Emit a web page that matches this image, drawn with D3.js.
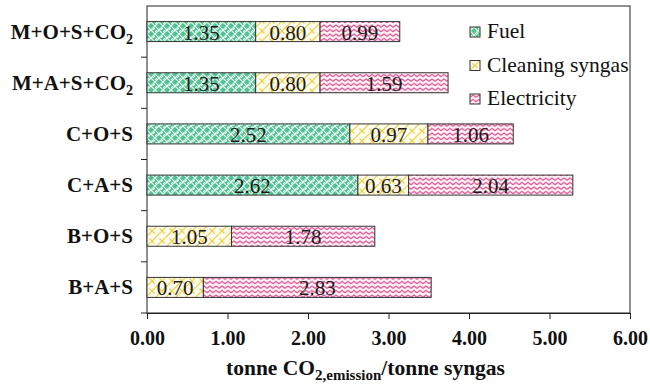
<!DOCTYPE html>
<html>
<head>
<meta charset="utf-8">
<script src="https://cdn.jsdelivr.net/npm/d3@7"></script>
<style>
  body { margin: 0; background: #fff; }
  svg text { font-family: "Liberation Serif", "Times New Roman", serif; }
</style>
</head>
<body>
<div id="chart"></div>
<script>
var svgWidth = 650;
var svgHeight = 384;

var margin = { top: 6, right: 20, bottom: 72, left: 147 };
var width = 630 - margin.left;
var height = 313 - margin.top;
var serif = "'Liberation Serif', 'Times New Roman', serif";

// data
var categories = ["M+O+S+CO2", "M+A+S+CO2", "C+O+S", "C+A+S", "B+O+S", "B+A+S"];
var seriesNames = ["Fuel", "Cleaning syngas", "Electricity"];
var fuel = [1.35, 1.35, 2.52, 2.62, 0, 0];
var cleaning = [0.80, 0.80, 0.97, 0.63, 1.05, 0.70];
var electricity = [0.99, 1.59, 1.06, 2.04, 1.78, 2.83];
var xTicks = [0, 1, 2, 3, 4, 5, 6];

var rows = categories.map(function(c, i) {
  return { cat: c, Fuel: fuel[i], "Cleaning syngas": cleaning[i], Electricity: electricity[i] };
});

var svg = d3.select("#chart").append("svg")
  .attr("width", svgWidth)
  .attr("height", svgHeight);

// patterns
var defs = svg.append("defs");

var pFuel = defs.append("pattern").attr("id", "p0")
  .attr("patternUnits", "userSpaceOnUse").attr("width", 8).attr("height", 8);
pFuel.append("rect").attr("width", 8).attr("height", 8).attr("fill", "#4fc492");
pFuel.append("path")
  .attr("d", "M0,2 L2,0 M0,4 L4,0 M4,8 L8,4 M6,8 L8,6 M4,0 L8,4 M0,4 L4,8")
  .attr("stroke", "#e6f8ee").attr("stroke-width", 1.2).attr("fill", "none");

var pClean = defs.append("pattern").attr("id", "p1")
  .attr("patternUnits", "userSpaceOnUse").attr("width", 10).attr("height", 10);
pClean.append("rect").attr("width", 10).attr("height", 10).attr("fill", "#fffdf2");
pClean.append("path")
  .attr("d", "M0,10 L10,0 M-1,1 L1,-1 M9,11 L11,9 M2.5,2.5 L7.5,7.5")
  .attr("stroke", "#f0cf3a").attr("stroke-width", 1.2).attr("fill", "none");

var pElec = defs.append("pattern").attr("id", "p2")
  .attr("patternUnits", "userSpaceOnUse").attr("width", 6).attr("height", 4.5);
pElec.append("rect").attr("width", 6).attr("height", 4.5).attr("fill", "#fff5f9");
pElec.append("path")
  .attr("d", "M0,3.3 L3,0.9 L6,3.3")
  .attr("stroke", "#dc4a8c").attr("stroke-width", 1.2).attr("fill", "none");

var fills = ["url(#p0)", "url(#p1)", "url(#p2)"];

var chartGroup = svg.append("g")
  .attr("transform", `translate(${margin.left}, ${margin.top})`);

var xScale = d3.scaleLinear().domain([0, 6]).range([0, width]);
var yBand = d3.scaleBand().domain(categories).range([0, height]);

// frame
chartGroup.append("rect")
  .attr("width", width).attr("height", height)
  .attr("fill", "none").attr("stroke", "#222").attr("stroke-width", 1);

// stacked bars
var stack = d3.stack().keys(seriesNames)(rows);

var layers = chartGroup.selectAll(".layer")
  .data(stack)
  .enter()
  .append("g")
  .attr("class", "layer")
  .attr("fill", (d, i) => fills[i]);

layers.selectAll("rect")
  .data(d => d.filter(p => p[1] - p[0] > 0))
  .enter()
  .append("rect")
  .attr("x", d => xScale(d[0]))
  .attr("y", d => yBand(d.data.cat) + yBand.bandwidth() / 2 - 10)
  .attr("width", d => xScale(d[1]) - xScale(d[0]))
  .attr("height", 20)
  .attr("stroke", "#333")
  .attr("stroke-width", 1);

layers.selectAll("text")
  .data(d => d.filter(p => p[1] - p[0] > 0))
  .enter()
  .append("text")
  .attr("x", d => (xScale(d[0]) + xScale(d[1])) / 2)
  .attr("y", d => yBand(d.data.cat) + yBand.bandwidth() / 2 + 8)
  .attr("text-anchor", "middle")
  .attr("fill", "#1a1a1a")
  .style("font-family", serif)
  .style("font-size", "21px")
  .text(d => (d[1] - d[0]).toFixed(2));

// x axis
var bottomAxis = d3.axisBottom(xScale).tickValues(xTicks).tickFormat(d3.format(".2f")).tickSizeOuter(0).tickSize(6).tickPadding(12);
var xg = chartGroup.append("g")
  .attr("transform", `translate(0, ${height})`)
  .call(bottomAxis);
xg.attr("font-family", serif);
xg.select(".domain").attr("stroke", "#222");
xg.selectAll(".tick line").attr("stroke", "#222");
xg.selectAll("text")
  .style("font-family", serif)
  .style("font-size", "20px").style("font-weight", "bold")
  .attr("fill", "#111");

// y ticks between categories
var yTickPos = d3.range(1, categories.length + 1).map(i => i * yBand.step());
chartGroup.selectAll(".ytick")
  .data(yTickPos)
  .enter()
  .append("line")
  .attr("x1", -6).attr("x2", 0)
  .attr("y1", d => d).attr("y2", d => d)
  .attr("stroke", "#222");

// category labels
var catLabels = chartGroup.selectAll(".cat")
  .data(categories)
  .enter()
  .append("text")
  .attr("x", -14)
  .attr("y", d => yBand(d) + yBand.bandwidth() / 2 + 7)
  .attr("text-anchor", "end")
  .style("font-family", serif)
  .style("font-size", "21px")
  .style("font-weight", "bold")
  .attr("fill", "#111");

catLabels.each(function(d) {
  var t = d3.select(this);
  if (d.endsWith("CO2")) {
    t.append("tspan").text(d.slice(0, -1));
    t.append("tspan").attr("dy", 5).style("font-size", "14px").text("2");
  } else {
    t.text(d);
  }
});

// axis title
var title = chartGroup.append("text")
  .attr("x", width / 2 - 23)
  .attr("y", height + 62)
  .attr("text-anchor", "middle")
  .style("font-family", serif)
  .style("font-size", "21.5px")
  .style("font-weight", "bold")
  .attr("fill", "#111");
title.append("tspan").text("tonne CO");
title.append("tspan").attr("dy", 5).style("font-size", "15px").text("2,emission");
title.append("tspan").attr("dy", -5).text("/tonne syngas");

// legend
var legend = chartGroup.selectAll(".legend")
  .data(seriesNames)
  .enter()
  .append("g")
  .attr("class", "legend")
  .attr("transform", (d, i) => `translate(${470 - margin.left}, ${27 - margin.top + i * 33.5})`);

legend.append("rect")
  .attr("width", 10).attr("height", 10)
  .attr("fill", (d, i) => fills[i])
  .attr("stroke", "#333");

legend.append("text")
  .attr("x", 17)
  .attr("y", 11)
  .style("font-family", serif)
  .style("font-size", "21.5px")
  .attr("fill", "#111")
  .text(d => d);
</script>
</body>
</html>
